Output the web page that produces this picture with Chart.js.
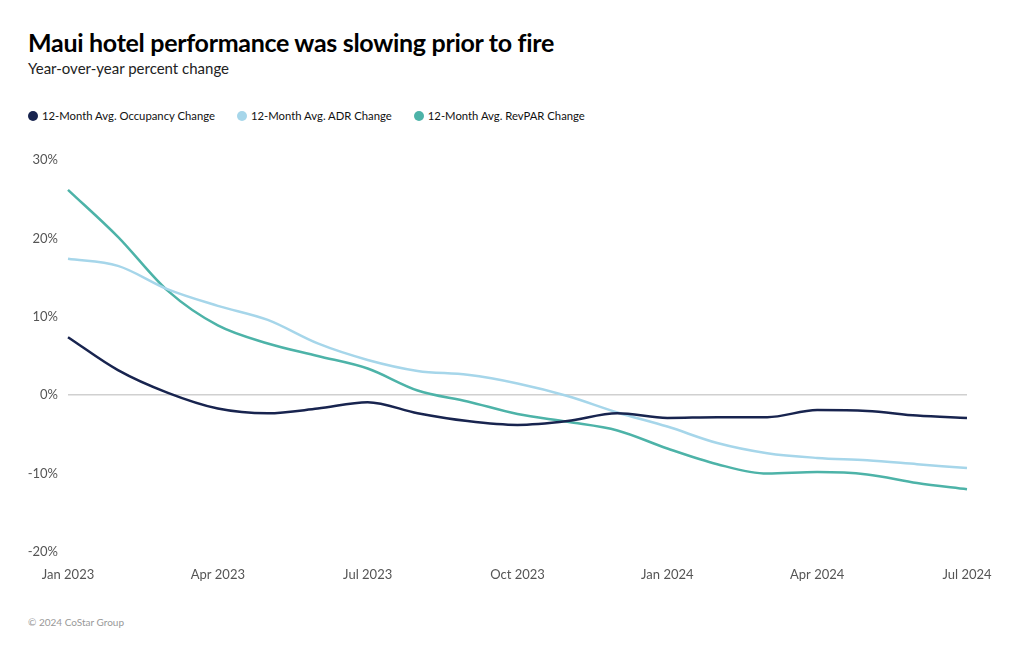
<!DOCTYPE html>
<html>
<head>
<meta charset="utf-8">
<script src="https://cdn.jsdelivr.net/npm/chart.js@4.4.1/dist/chart.umd.min.js"></script>
<style>
  body { margin: 0; background: #fff; font-family: Lato, "Noto Sans", sans-serif; }
  #wrap { position: relative; width: 1020px; height: 650px; }
  h1 { position: absolute; left: 28px; top: 27px; margin: 0; font-size: 25px; font-weight: 700; color: #000; letter-spacing: -0.3px; }
  .sub { position: absolute; left: 28px; top: 59px; font-size: 15px; color: #222; }
  .legend { position: absolute; left: 28px; top: 109px; font-size: 11.3px; color: #111; display: flex; }
  .legend span { display: flex; align-items: center; margin-right: 22px; }
  .legend i { display: inline-block; width: 10px; height: 10px; border-radius: 50%; margin-right: 4px; }
  .foot { position: absolute; left: 28px; top: 616px; font-size: 10px; color: #999; }
  #c { position: absolute; left: 0; top: 141px; }
</style>
</head>
<body>
<div id="wrap">
  <h1>Maui hotel performance was slowing prior to fire</h1>
  <div class="sub">Year-over-year percent change</div>
  <div class="legend" id="legend"></div>
  <canvas id="c" width="1020" height="460"></canvas>
  <div class="foot">© 2024 CoStar Group</div>
</div>
<script>
// monthly, Jan 2023 .. Jul 2024
const months = ['Jan 2023', 'Feb 2023', 'Mar 2023', 'Apr 2023', 'May 2023', 'Jun 2023', 'Jul 2023',
  'Aug 2023', 'Sep 2023', 'Oct 2023', 'Nov 2023', 'Dec 2023', 'Jan 2024', 'Feb 2024', 'Mar 2024',
  'Apr 2024', 'May 2024', 'Jun 2024', 'Jul 2024'];

const occupancy = [7.4, 3.2, 0.3, -1.7, -2.3, -1.7, -0.9, -2.3, -3.3, -3.8, -3.3, -2.3, -2.9, -2.8, -2.8, -1.9, -2.0, -2.6, -2.9];
const adr = [17.4, 16.5, 13.5, 11.4, 9.6, 6.6, 4.5, 3.1, 2.6, 1.5, -0.1, -2.2, -4.0, -6.1, -7.4, -8.0, -8.3, -8.8, -9.3];
const revpar = [26.2, 20.2, 13.3, 8.9, 6.6, 5.0, 3.4, 0.6, -0.8, -2.4, -3.4, -4.5, -6.8, -8.8, -10.0, -9.8, -10.1, -11.2, -12.0];

const seriesNames = ['12-Month Avg. Occupancy Change', '12-Month Avg. ADR Change', '12-Month Avg. RevPAR Change'];
const seriesColors = ['#18244f', '#a6d6ea', '#4db3a8'];

const yTicks = [-20, -10, 0, 10, 20, 30];

// legend
const legendEl = document.getElementById('legend');
seriesNames.forEach((name, i) => {
  const s = document.createElement('span');
  s.innerHTML = '<i style="background:' + seriesColors[i] + '"></i>' + name;
  legendEl.appendChild(s);
});

const font = 'Lato, "Noto Sans", sans-serif';

new Chart(document.getElementById('c'), {
  type: 'line',
  data: {
    labels: months,
    datasets: [occupancy, adr, revpar].map((d, i) => ({
      label: seriesNames[i],
      data: d,
      borderColor: seriesColors[i],
      borderWidth: 2.5,
      pointRadius: 0,
      tension: 0.4,
      cubicInterpolationMode: 'monotone',
      fill: false
    }))
  },
  options: {
    responsive: false,
    animation: false,
    layout: { padding: { top: 19, right: 53, bottom: 11, left: 0 } },
    plugins: { legend: { display: false }, tooltip: { enabled: false } },
    scales: {
      x: {
        offset: false,
        border: { display: false },
        grid: { display: false, drawTicks: false },
        afterFit: s => { s.height = 38; },
        ticks: {
          autoSkip: false,
          maxRotation: 0,
          padding: 15,
          color: '#555',
          font: { family: font, size: 13 },
          callback: (v, i) => (i % 3 === 0 ? months[i] : '')
        }
      },
      y: {
        min: -20,
        max: 30,
        border: { display: false },
        afterFit: s => { s.width = 68; },
        afterBuildTicks: s => { s.ticks = yTicks.map(v => ({ value: v })); },
        grid: {
          drawTicks: false,
          color: ctx => (ctx.tick && ctx.tick.value === 0 ? '#d0d0d0' : 'rgba(0,0,0,0)'),
          lineWidth: 1.5
        },
        ticks: {
          padding: 10,
          color: '#555',
          font: { family: font, size: 13 },
          callback: v => v + '%'
        }
      }
    }
  }
});
</script>
</body>
</html>
